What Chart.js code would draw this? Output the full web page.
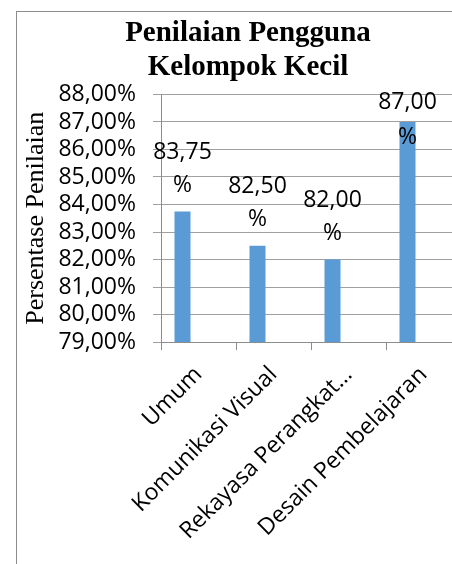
<!DOCTYPE html>
<html>
<head>
<meta charset="utf-8">
<title>Penilaian Pengguna Kelompok Kecil</title>
<script src="https://cdn.jsdelivr.net/npm/chart.js@4.4.1/dist/chart.umd.min.js"></script>
<style>
  html, body { margin: 0; padding: 0; background: #fff; overflow: hidden; }
  body { width: 452px; height: 564px; position: relative; }
  .frame {
    position: absolute; left: 16px; top: 11px; width: 600px; height: 700px;
    border-left: 1px solid #8c8c8c; border-top: 1px solid #8c8c8c;
  }
  .wrap { position: absolute; left: 0; top: 0; width: 496px; height: 564px; }
</style>
</head>
<body>
<div class="frame"></div>
<div class="wrap"><canvas id="chart"></canvas></div>
<script>
// --- data ---
var categories = ['Umum', 'Komunikasi Visual', 'Rekayasa Perangkat\u2026', 'Desain Pembelajaran'];
var penilaian = [83.75, 82.50, 82.00, 87.00];
// the original sheet had two more (empty) series, which keeps the bars left of centre
var seriesKosong1 = [null, null, null, null];
var seriesKosong2 = [null, null, null, null];
var yTickLabels = ['79,00%', '80,00%', '81,00%', '82,00%', '83,00%', '84,00%', '85,00%', '86,00%', '87,00%', '88,00%'];

var SANS = '"Open Sans", sans-serif';
var SERIF = '"Liberation Serif", "Times New Roman", serif';

function fmtPct(v) {
  return v.toFixed(2).replace('.', ',');
}

// Excel-like data labels: "83,75" / "%" above the bar, kept inside the plot
var barLabels = {
  id: 'barLabels',
  afterDatasetsDraw: function(chart) {
    var ctx = chart.ctx;
    var meta = chart.getDatasetMeta(0);
    var top = chart.chartArea.top;
    ctx.save();
    ctx.font = '23px ' + SANS;
    ctx.fillStyle = '#000';
    ctx.textAlign = 'center';
    ctx.textBaseline = 'middle';
    meta.data.forEach(function(bar, i) {
      var y2 = bar.y - 26;
      var y1 = y2 - 33;
      if (y1 < top + 8) {
        y1 = top + 8;
        y2 = y1 + 35;
      }
      ctx.fillText(fmtPct(penilaian[i]), bar.x, y1);
      ctx.fillText('%', bar.x, y2);
    });
    ctx.restore();
  }
};

new Chart(document.getElementById('chart'), {
  type: 'bar',
  data: {
    labels: categories,
    datasets: [
      { label: 'Penilaian', data: penilaian, backgroundColor: '#5b9bd5' },
      { label: 'Series 2', data: seriesKosong1, backgroundColor: '#ed7d31' },
      { label: 'Series 3', data: seriesKosong2, backgroundColor: '#a5a5a5' }
    ]
  },
  options: {
    responsive: true,
    maintainAspectRatio: false,
    animation: false,
    categoryPercentage: 0.64,
    barPercentage: 1.0,
    layout: { padding: { left: 35, right: 35, top: 0, bottom: 8 } },
    plugins: {
      legend: { display: false },
      tooltip: { enabled: false },
      title: {
        display: true,
        text: ['Penilaian Pengguna', 'Kelompok Kecil'],
        color: '#000',
        font: { family: SERIF, size: 29, weight: 'bold', lineHeight: 1.18 },
        padding: { top: 16, bottom: 10 }
      }
    },
    scales: {
      x: {
        offset: true,
        grid: {
          offset: true,
          drawOnChartArea: false,
          drawTicks: true,
          tickLength: 8,
          color: '#8c8c8c'
        },
        border: { color: '#8c8c8c' },
        ticks: {
          color: '#000',
          font: { family: SANS, size: 23 },
          minRotation: 45,
          maxRotation: 45,
          autoSkip: false,
          padding: 11
        }
      },
      y: {
        min: 79,
        max: 88,
        afterFit: function(scale) { scale.width = 126; },
        grid: { color: '#a0a0a0', tickLength: 8 },
        border: { color: '#8c8c8c' },
        ticks: {
          stepSize: 1,
          autoSkip: false,
          color: '#000',
          font: { family: SANS, size: 23 },
          padding: 17,
          callback: function(value, index) { return yTickLabels[index]; }
        },
        title: {
          display: true,
          text: 'Persentase Penilaian',
          color: '#000',
          font: { family: SERIF, size: 26, lineHeight: 1.2 },
          padding: { top: -14, bottom: 0 }
        }
      }
    }
  },
  plugins: [barLabels]
});
</script>
</body>
</html>
